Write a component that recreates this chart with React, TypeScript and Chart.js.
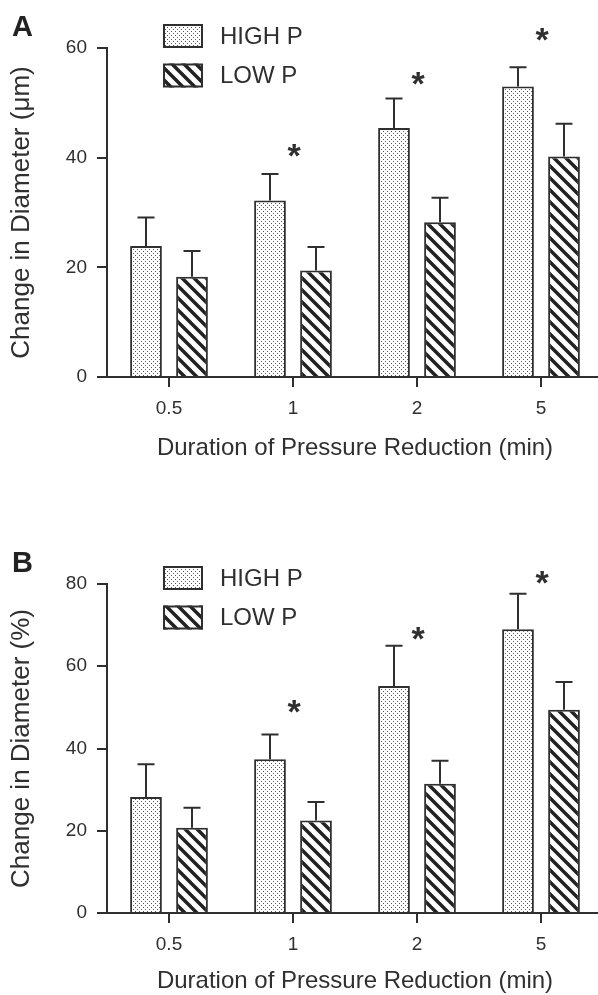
import React, { useEffect, useRef } from 'react';
import { Chart, registerables } from 'chart.js';

Chart.register(...registerables);

// ---------------- data ----------------
const categories = ['0.5', '1', '2', '5'];
const seriesLabels = ['HIGH P', 'LOW P'];

// Panel A: change in diameter (µm)
const highP_um = [23.9, 32.2, 45.4, 53.0];
const highP_um_err = [5.2, 4.8, 5.4, 3.5];
const lowP_um = [18.3, 19.4, 28.2, 40.2];
const lowP_um_err = [4.7, 4.3, 4.5, 6.0];
const starsA = [null, 41.0, 54.2, 62.1];

// Panel B: change in diameter (%)
const highP_pct = [28.2, 37.4, 55.2, 69.0];
const highP_pct_err = [8.0, 6.0, 9.8, 8.6];
const lowP_pct = [20.7, 22.5, 31.4, 49.4];
const lowP_pct_err = [4.9, 4.5, 5.6, 6.8];
const starsB = [null, 49.9, 67.6, 81.1];

const yMaxA = 60;
const yMaxB = 80;
const yStep = 20;

const xTitle = 'Duration of Pressure Reduction (min)';
const yTitleA = 'Change in Diameter (\u03bcm)';
const yTitleB = 'Change in Diameter (%)';

// ---------------- style ----------------
const FONT = '"Liberation Sans", Arial, Helvetica, sans-serif';
const INK = '#2f2f2f';
const CW = 606;
const CH = 465;
const ZERO_Y = 377;
const TOP_Y = 48;

Chart.defaults.font.family = FONT;
Chart.defaults.color = INK;

function makeDots(): CanvasPattern {
  const c = document.createElement('canvas');
  c.width = 4;
  c.height = 4;
  const g = c.getContext('2d')!;
  g.fillStyle = '#ffffff';
  g.fillRect(0, 0, 4, 4);
  g.fillStyle = '#5a5a5a';
  g.fillRect(1, 1, 1, 1);
  g.fillRect(3, 3, 1, 1);
  return g.createPattern(c, 'repeat')!;
}

function makeStripes(): CanvasPattern {
  const P = 12;
  const c = document.createElement('canvas');
  c.width = P;
  c.height = P;
  const g = c.getContext('2d')!;
  g.fillStyle = '#ffffff';
  g.fillRect(0, 0, P, P);
  g.strokeStyle = '#222222';
  g.lineWidth = 3.5;
  for (const k of [-1, 0, 1]) {
    g.beginPath();
    g.moveTo(k * P - 3, -3);
    g.lineTo(k * P + P + 3, P + 3);
    g.stroke();
  }
  return g.createPattern(c, 'repeat')!;
}

type PanelProps = {
  top: number;
  letter: string;
  yTitle: string;
  yMax: number;
  high: number[];
  highErr: number[];
  low: number[];
  lowErr: number[];
  stars: (number | null)[];
  legendTop: number;
  titlePadBottom: number;
};

function Panel(p: PanelProps) {
  const ref = useRef<HTMLCanvasElement>(null);

  useEffect(() => {
    const canvas = ref.current!;
    const dots = makeDots();
    const stripes = makeStripes();

    const overlay = {
      id: 'overlay',
      afterDatasetsDraw(chart: any) {
        const ctx = chart.ctx as CanvasRenderingContext2D;
        const ys = chart.scales.y;
        const xs = chart.scales.x;
        ctx.save();
        ctx.strokeStyle = INK;
        ctx.lineWidth = 2;
        chart.data.datasets.forEach((ds: any, i: number) => {
          const meta = chart.getDatasetMeta(i);
          meta.data.forEach((bar: any, j: number) => {
            const v = ds.data[j] as number;
            const e = ds.errors[j] as number;
            const x = Math.round(bar.x);
            const yTop = bar.y;
            const yErr = ys.getPixelForValue(v + e);
            ctx.beginPath();
            ctx.moveTo(x, yTop);
            ctx.lineTo(x, yErr);
            ctx.moveTo(x - 8.5, yErr);
            ctx.lineTo(x + 8.5, yErr);
            ctx.stroke();
          });
        });
        // significance stars
        ctx.fillStyle = INK;
        ctx.font = `bold 34px ${FONT}`;
        ctx.textAlign = 'center';
        ctx.textBaseline = 'alphabetic';
        p.stars.forEach((s, j) => {
          if (s == null) return;
          const x = xs.getPixelForValue(j);
          const y = ys.getPixelForValue(s);
          ctx.fillText('*', x + 1, y + 15);
        });
        ctx.restore();
      },
      afterDraw(chart: any) {
        const ctx = chart.ctx as CanvasRenderingContext2D;
        ctx.save();
        // panel letter
        ctx.fillStyle = '#222';
        ctx.font = `bold 29px ${FONT}`;
        ctx.textAlign = 'left';
        ctx.textBaseline = 'alphabetic';
        ctx.fillText(p.letter, 12, 36);
        // legend
        chart.data.datasets.forEach((ds: any, i: number) => {
          const by = p.legendTop + i * 39.5;
          ctx.fillStyle = ds.backgroundColor;
          ctx.fillRect(163, by, 40, 24);
          ctx.strokeStyle = INK;
          ctx.lineWidth = 2;
          ctx.strokeRect(164, by + 1, 38, 22);
          ctx.fillStyle = INK;
          ctx.font = `24px ${FONT}`;
          ctx.textBaseline = 'middle';
          ctx.fillText(ds.label, 220, by + 13);
        });
        ctx.restore();
      },
    };

    const chart = new Chart(canvas, {
      type: 'bar',
      data: {
        labels: categories,
        datasets: [
          {
            label: seriesLabels[0],
            data: p.high,
            errors: p.highErr,
            backgroundColor: dots,
            borderColor: INK,
            borderWidth: 2,
            borderSkipped: 'bottom',
            categoryPercentage: 0.742,
            barPercentage: 0.69,
          } as any,
          {
            label: seriesLabels[1],
            data: p.low,
            errors: p.lowErr,
            backgroundColor: stripes,
            borderColor: INK,
            borderWidth: 2,
            borderSkipped: 'bottom',
            categoryPercentage: 0.742,
            barPercentage: 0.69,
          } as any,
        ],
      },
      options: {
        responsive: false,
        maintainAspectRatio: false,
        animation: false,
        events: [],
        layout: { padding: { top: TOP_Y, left: 0, right: 3, bottom: 0 } },
        plugins: {
          legend: { display: false },
          tooltip: { enabled: false },
          title: { display: false },
        },
        scales: {
          x: {
            type: 'category',
            offset: true,
            afterFit: (s: any) => {
              s.height = CH - ZERO_Y;
            },
            grid: {
              offset: false,
              drawOnChartArea: false,
              drawTicks: true,
              tickLength: 10,
              lineWidth: 2,
              color: INK,
            },
            border: { display: true, color: INK, width: 2 },
            ticks: {
              font: { size: 19 },
              color: INK,
              padding: 10,
              autoSkip: false,
              maxRotation: 0,
            },
            title: {
              display: true,
              text: xTitle,
              font: { size: 24 },
              color: INK,
              padding: { top: 0, bottom: p.titlePadBottom },
            },
          },
          y: {
            min: 0,
            max: p.yMax,
            afterFit: (s: any) => {
              s.width = 107;
            },
            grid: {
              drawOnChartArea: false,
              drawTicks: true,
              tickLength: 10,
              lineWidth: 2,
              color: INK,
            },
            border: { display: true, color: INK, width: 2 },
            ticks: {
              stepSize: yStep,
              font: { size: 19 },
              color: INK,
              padding: 10,
            },
            title: {
              display: true,
              text: p.yTitle,
              font: { size: 26 },
              color: INK,
              padding: { top: 6, bottom: 0 },
            },
          },
        },
      } as any,
      plugins: [overlay],
    });
    return () => chart.destroy();
  }, []);

  return (
    <div style={{ position: 'absolute', left: 0, top: p.top }}>
      <canvas
        ref={ref}
        width={CW}
        height={CH}
        style={{ width: CW, height: CH, display: 'block' }}
      />
    </div>
  );
}

export default function App() {
  return (
    <div
      style={{
        position: 'absolute',
        left: 0,
        top: 0,
        width: 598,
        height: 995,
        overflow: 'hidden',
        background: '#ffffff',
      }}
    >
      <Panel
        top={0}
        letter="A"
        yTitle={yTitleA}
        yMax={yMaxA}
        high={highP_um}
        highErr={highP_um_err}
        low={lowP_um}
        lowErr={lowP_um_err}
        stars={starsA}
        legendTop={24}
        titlePadBottom={2}
      />
      <Panel
        top={536}
        letter="B"
        yTitle={yTitleB}
        yMax={yMaxB}
        high={highP_pct}
        highErr={highP_pct_err}
        low={lowP_pct}
        lowErr={lowP_pct_err}
        stars={starsB}
        legendTop={30}
        titlePadBottom={5}
      />
    </div>
  );
}
